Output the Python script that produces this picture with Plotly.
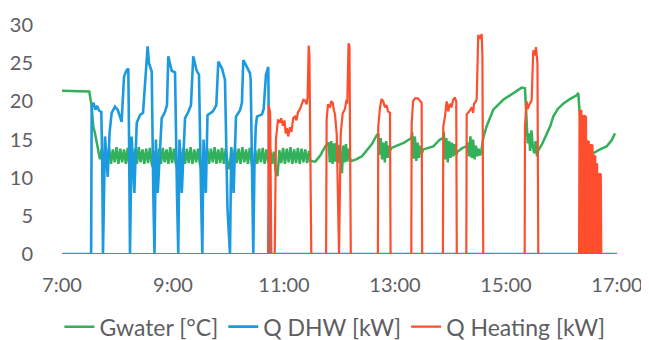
import pandas as pd
import plotly.graph_objects as go

# ---------------- data (minutes after 7:00) ----------------
# Q DHW [kW]
dhw_t = [0, 31.5, 32.1, 34, 36, 38, 40, 42.5, 43.5, 44.3,
         46.5, 48.0, 49.4, 51.5, 53.7, 57.3, 60.5, 64.5, 66.0, 67.0, 69.5, 71.7, 72.5, 73.5,
         75.3, 78.2, 80.8, 84.3, 87.6, 89.0, 92.6, 94.0, 97.0, 98.7, 100.0,
         101.5, 103.5, 107.8, 111.3, 113.5, 114.9, 118.6, 122.2, 124.3, 125.7,
         127.0, 129.5, 133.0, 136.5, 139.4, 141.9, 145.6, 148.1, 150.3, 151.7,
         153.0, 155.5, 157.3, 163.2, 166.8, 169.0, 173.0, 175.1, 176.2, 178.9, 181.6,
         183.0, 185.5, 188.1, 192.4, 194.5, 196.0, 197.8, 203.2, 204.0, 205.5, 206.8,
         208.1, 209.5, 210.8, 216.2, 218.0, 220.5, 223.0, 223.8, 224.8, 600]
dhw_v = [0, 0, 19.3, 19.8, 18.9, 19.4, 18.8, 18.6, 12.0, 0,
         15.4, 12.0, 10.1, 16.0, 18.5, 19.3, 18.8, 17.3, 20.0, 23.2, 24.0, 24.3, 15.0, 0,
         15.4, 8.0, 17.2, 18.2, 18.5, 20.7, 27.2, 25.0, 23.9, 8.0, 0,
         15.0, 8.0, 17.8, 18.6, 19.5, 25.9, 24.0, 23.8, 8.0, 0,
         15.0, 8.0, 17.8, 18.6, 19.5, 25.9, 24.0, 23.5, 8.0, 0,
         15.0, 8.0, 18.2, 18.7, 19.5, 25.2, 24.3, 23.5, 22.8, 6.0, 0,
         14.0, 8.0, 18.0, 18.8, 19.8, 25.4, 25.0, 23.7, 22.8, 7.0, 0,
         12.0, 16.7, 18.0, 18.3, 19.0, 23.5, 24.5, 15.0, 0, 0]

# Q Heating [kW]
heat_t = [0, 222.8, 223.5, 225.0, 226.3, 230.0, 231.3, 232.4, 233.5, 235.7, 237.0, 238.9,
          240.5, 241.8, 243.2, 244.5, 246.5, 248.0, 250.0, 251.9, 253.5, 255.1, 257.0,
          259.4, 261.0, 262.7, 264.5, 265.5, 266.7, 267.5, 269.5,
          285.5, 286.1, 287.5, 289.7, 291.0, 292.6, 294.0, 295.1, 297.0, 298.7, 299.5,
          301.3, 303.4, 305.9, 307.5, 308.4, 309.8, 310.8, 312.2,
          341.5, 341.9, 343.8, 345.5, 347.3, 349.2, 351.0, 352.4, 354.6, 355.2,
          377.6, 378.0, 379.5, 381.6, 384.8, 387.5, 388.8, 389.4,
          411.8, 412.2, 414.0, 415.9, 417.6, 419.4, 421.0, 423.0, 424.8, 426.2, 426.8,
          437.1, 437.5, 440.4, 442.9, 444.5, 445.4, 447.0, 448.3, 450.0, 452.0, 453.7, 454.5, 455.4,
          500.2, 500.5, 502.3, 503.5, 505.2, 507.7, 509.5, 511.0, 512.4, 514.0, 514.9]
heat_v = [0, 0, 19.5, 18.5, 0, 0, 15.0, 16.3, 17.6, 17.2, 17.8, 16.8,
          17.5, 15.8, 16.5, 15.4, 16.6, 16.0, 17.8, 18.0, 17.5, 18.6, 18.9,
          19.7, 20.2, 20.1, 19.6, 20.5, 27.3, 26.0, 0,
          0, 17.6, 19.6, 19.2, 20.0, 19.8, 18.8, 18.3, 15.7, 0, 0,
          15.7, 18.4, 19.0, 20.2, 19.7, 27.6, 27.2, 0,
          0, 16.7, 19.2, 20.3, 20.0, 19.2, 19.5, 18.7, 18.5, 0,
          0, 17.0, 20.0, 20.4, 20.4, 20.0, 19.8, 0,
          0, 16.7, 18.0, 20.0, 18.7, 19.7, 19.2, 20.2, 20.5, 20.0, 0,
          0, 18.3, 18.7, 19.2, 18.5, 19.7, 19.9, 20.3, 28.7, 28.2, 28.8, 26.0, 0,
          0, 16.7, 20.0, 19.0, 19.6, 20.1, 26.7, 26.0, 27.1, 25.0, 0]
# rapid on/off cycling near the end, sampled every half minute from 559.0
heat_burst_start = 559.0
heat_burst_step = 0.5
heat_burst_v = [0, 18.9, 0, 18.9, 0, 18.9, 0, 18.2, 0, 18.2, 0, 18.2, 0, 18.2, 0, 18.0,
                0, 14.9, 0, 14.9, 0, 14.8, 0, 14.4, 0, 14.4, 0, 14.4, 0, 14.3, 0, 13.0,
                0, 13.0, 0, 12.9, 0, 11.9, 0, 11.9, 0, 10.6, 0, 10.6, 0, 10.6, 0, 10.5, 0]
heat_end_t = [600]
heat_end_v = [0]

# Gwater [°C]
gw_head_t = [0, 29.5, 32.1, 33.8, 35.7, 37.5, 39.2]
gw_head_v = [21.4, 21.3, 19.3, 16.7, 15.8, 14.8, 13.6]
# fluctuating band sampled every 2 minutes from 41
gw_noise_start = 41
gw_noise_step = 2
gw_noise_v = [12.4, 13.8, 11.5, 13.7, 11.9, 13.9, 11.8, 13.7, 12.0, 14.0,
              11.8, 13.8, 12.0, 13.7, 11.8, 13.9, 11.3, 13.6, 11.9, 13.8,
              11.8, 14.0, 12.0, 13.7, 11.8, 13.8, 11.9, 13.9, 11.8, 11.2,
              13.5, 11.9, 13.8, 11.8, 13.9, 12.0, 13.7, 11.8, 14.0, 11.9,
              13.8, 11.8, 11.2, 13.7, 12.0, 13.9, 11.8, 13.8, 11.9, 14.0,
              11.8, 13.7, 12.0, 13.8, 11.8, 11.0, 13.6, 11.9, 13.9, 11.8,
              13.8, 12.0, 14.0, 11.8, 13.7, 11.9, 13.9, 11.8, 13.8, 12.0,
              11.1, 13.7, 11.8, 13.9, 11.9, 13.8, 11.8, 14.0, 12.0, 13.7,
              11.8, 13.9, 11.9, 11.0, 13.6, 11.8, 13.8, 12.0, 13.9, 11.8,
              13.7, 11.9, 13.8, 11.8, 13.4, 10.8, 10.2, 13.6, 11.9, 13.9,
              11.8, 13.8, 12.0, 14.0, 11.8, 13.7, 11.9, 13.9, 11.8, 13.8,
              12.0, 13.7, 11.9, 13.5]
gw_tail_t = [268.4, 273.8, 279.2, 284.6, 288.3,
             289.5, 291.0, 292.5, 294.0, 295.5, 297.0, 298.5, 300.0, 301.5, 302.7, 304.0,
             305.5, 307.0, 308.5, 310.0, 311.5,
             313.2, 318.0, 324.3, 330.0, 335.0, 340.0, 341.9,
             343.0, 344.5, 346.0, 347.5, 349.0, 350.5, 352.0, 353.5, 355.0,
             356.4, 362.0, 370.0, 377.6,
             378.5, 380.0, 381.5, 383.0, 384.5, 386.0, 387.5, 389.0,
             390.6, 401.4, 408.6, 412.2,
             412.8, 414.0, 415.5, 417.0, 418.5, 420.0, 421.5, 423.0, 424.5, 426.0,
             427.5, 433.0, 437.5,
             438.5, 440.0, 441.5, 443.0, 444.5, 446.0, 447.5, 449.0, 450.5, 452.0, 453.5, 455.4,
             459.0, 466.2, 477.0, 487.9, 496.9, 500.5,
             502.3, 503.5, 505.0, 506.0, 507.5, 509.0, 510.5, 512.0, 513.5, 515.0,
             519.0, 523.9, 528.0, 531.1, 536.0, 541.9, 549.0, 556.4, 558.1,
             560.0, 562.9, 564.0, 565.4, 568.9, 574.3, 581.6, 588.8, 594.2, 597.8]
gw_tail_v = [12.2, 12.1, 12.9, 14.1, 14.6,
             12.0, 14.8, 11.8, 14.5, 12.1, 14.6, 11.9, 14.3, 12.2, 10.6, 14.2,
             12.0, 14.4, 12.1, 13.8, 12.4,
             12.2, 12.4, 12.8, 13.6, 14.4, 15.5, 15.8,
             13.0, 15.2, 12.4, 14.6, 12.0, 14.8, 12.6, 14.2, 13.6,
             13.9, 14.2, 14.6, 15.2,
             16.0, 12.5, 15.4, 12.2, 14.6, 12.6, 14.2, 13.2,
             13.7, 14.1, 15.0, 15.2,
             16.0, 12.4, 15.2, 12.0, 14.8, 12.6, 14.6, 12.8, 14.4, 13.0,
             13.4, 13.9, 14.1,
             14.6, 12.8, 15.4, 12.6, 15.0, 12.4, 14.2, 12.8, 13.8, 12.9, 13.6, 15.2,
             16.7, 18.9, 20.2, 21.1, 21.8, 21.7,
             17.5, 14.5, 15.8, 13.5, 16.2, 14.0, 13.2, 14.8, 12.8, 13.6,
             14.4, 15.6, 16.8, 18.0, 19.0, 19.7, 20.3, 20.8, 21.1,
             18.0, 16.3, 12.9, 14.9, 13.9, 13.2, 13.7, 14.1, 14.9, 15.8]

tick_labels = ["7:00", "9:00", "11:00", "13:00", "15:00", "17:00"]
tick_minutes = [0, 120, 240, 360, 480, 600]

# ---------------- assemble ----------------
base = pd.Timestamp("2020-01-01 07:00")


def to_time(mins):
    return base + pd.to_timedelta(pd.Series(mins, dtype=float), unit="m")


gw_noise_t = [gw_noise_start + gw_noise_step * i for i in range(len(gw_noise_v))]
gw_t = gw_head_t + gw_noise_t + gw_tail_t
gw_v = gw_head_v + gw_noise_v + gw_tail_v

burst_t = [heat_burst_start + heat_burst_step * i for i in range(len(heat_burst_v))]
h_t = heat_t + burst_t + heat_end_t
h_v = heat_v + heat_burst_v + heat_end_v

GREEN = "#33B05A"
BLUE = "#1C9AE0"
RED = "#FF4E2E"
FONT = "Lato"
GREY = "#5E5E62"

fig = go.Figure()
fig.add_trace(go.Scatter(x=to_time(gw_t), y=gw_v, mode="lines", name="Gwater [°C]",
                         line=dict(color=GREEN, width=2.5)))
fig.add_trace(go.Scatter(x=to_time(dhw_t), y=dhw_v, mode="lines", name="Q DHW [kW]",
                         line=dict(color=BLUE, width=2.6)))
fig.add_trace(go.Scatter(x=to_time(h_t), y=h_v, mode="lines", name="Q Heating [kW]",
                         line=dict(color=RED, width=2.2)))

# the page body adds an 8px offset, so the figure is sized to fit inside the window
fig.update_layout(
    width=641, height=332,
    margin=dict(l=54, r=32, t=17, b=86, autoexpand=False),
    paper_bgcolor="white", plot_bgcolor="white",
    font=dict(family=FONT, color=GREY),
    showlegend=True,
    legend=dict(orientation="h", xref="container", yref="container",
                x=0.51, xanchor="center", y=0.04, yanchor="middle",
                font=dict(size=23, color=GREY, family=FONT), bgcolor="rgba(0,0,0,0)",
                traceorder="normal"),
    xaxis=dict(type="date", range=[to_time([0])[0], to_time([600])[0]],
               tickvals=list(to_time(tick_minutes)), ticktext=tick_labels,
               automargin=False,
               showgrid=False, zeroline=False, showline=False,
               ticks="outside", ticklen=13, tickcolor="rgba(0,0,0,0)",
               tickfont=dict(size=20, color=GREY, family=FONT)),
    yaxis=dict(range=[0, 30], dtick=5, showgrid=False, zeroline=False, showline=False,
               automargin=False,
               ticks="outside", ticklen=24, tickcolor="rgba(0,0,0,0)",
               tickfont=dict(size=20, color=GREY, family=FONT)),
)

fig.write_html("out.html")
